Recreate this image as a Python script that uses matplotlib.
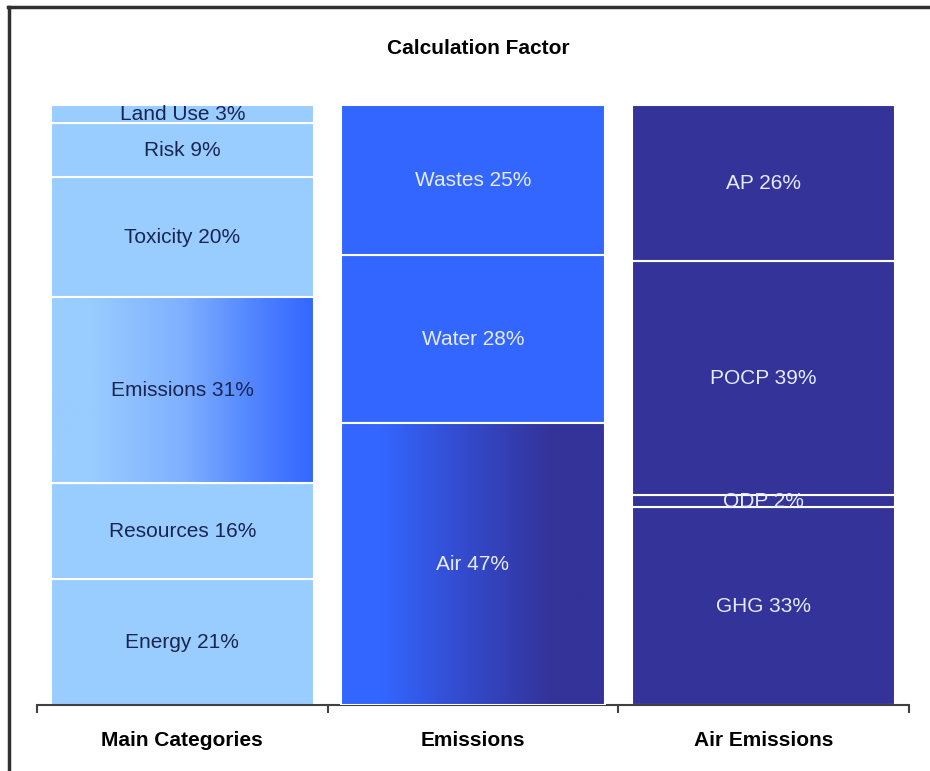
import numpy as np
import matplotlib.pyplot as plt
from matplotlib.lines import Line2D
from matplotlib.colors import LinearSegmentedColormap

plt.rcParams['font.family'] = ['Liberation Sans', 'DejaVu Sans']

# Data
groups = ['Main Categories', 'Emissions', 'Air Emissions']
main_labels = ['Energy', 'Resources', 'Emissions', 'Toxicity', 'Risk', 'Land Use']
main_values = [21, 16, 31, 20, 9, 3]
emis_labels = ['Air', 'Water', 'Wastes']
emis_values = [47, 28, 25]
air_labels = ['GHG', 'ODP', 'POCP', 'AP']
air_values = [33, 2, 39, 26]

light = '#99CCFF'
blue = '#3366FF'
navy = '#333399'

fig = plt.figure(figsize=(9.3, 7.71), dpi=100)
ax = fig.add_axes([0.0398, 0.0856, 0.9376, 0.7782])

def stacked(x, labels, values, color, txtcolor, grad=None):
    bottom = 0
    for lab, v in zip(labels, values):
        b = ax.bar(x, v, width=0.905, bottom=bottom, color=color,
                   edgecolor='white', linewidth=1.5, zorder=2)[0]
        if grad is not None and lab == grad[0]:
            cmap = LinearSegmentedColormap.from_list('g', grad[1])
            img = ax.imshow(np.linspace(0, 1, 256).reshape(1, -1), cmap=cmap,
                            aspect='auto', zorder=2.5,
                            extent=(b.get_x(), b.get_x() + b.get_width(),
                                    b.get_y(), b.get_y() + b.get_height()))
            img.set_clip_path(b)
            ax.bar(x, v, width=0.905, bottom=bottom, color='none',
                   edgecolor='white', linewidth=1.5, zorder=3)
        ax.text(x, bottom + v / 2, f'{lab} {v}%', ha='center', va='center',
                fontsize=15, color=txtcolor, zorder=4)
        bottom += v

stacked(0, main_labels, main_values, light, '#1a2550',
        grad=('Emissions', [(0, light), (0.15, light), (0.5, '#7fb0ff'),
                            (0.8, '#4c80ff'), (1, blue)]))
stacked(1, emis_labels, emis_values, blue, '#e6ecff',
        grad=('Air', [(0, blue), (0.15, blue), (0.5, '#3448c8'),
                      (0.8, navy), (1, navy)]))
stacked(2, air_labels, air_values, navy, '#e6ecff')

ax.set_xlim(-0.5, 2.5)
ax.set_ylim(0, 100)
for s in ['top', 'right', 'left']:
    ax.spines[s].set_visible(False)
ax.spines['bottom'].set_color('#404040')
ax.spines['bottom'].set_linewidth(1.5)
ax.set_yticks([])
ax.set_xticks(range(len(groups)))
ax.set_xticklabels(groups, fontsize=15, fontweight='bold')
ax.tick_params(axis='x', which='major', length=0, pad=19)
ax.set_xticks([-0.5, 0.5, 1.5, 2.5], minor=True)
ax.tick_params(axis='x', which='minor', length=6, width=1.5, color='#404040')

fig.text(0.514, 0.937, 'Calculation Factor', ha='center', va='center',
         fontsize=15, fontweight='bold')

# screenshot frame (top and left edges)
fig.add_artist(Line2D([0.009, 1.0], [0.991, 0.991], color='#303030', lw=2.5))
fig.add_artist(Line2D([0.0097, 0.0097], [0.0, 0.991], color='#303030', lw=2.5))

fig.savefig('out.png', dpi=100)
